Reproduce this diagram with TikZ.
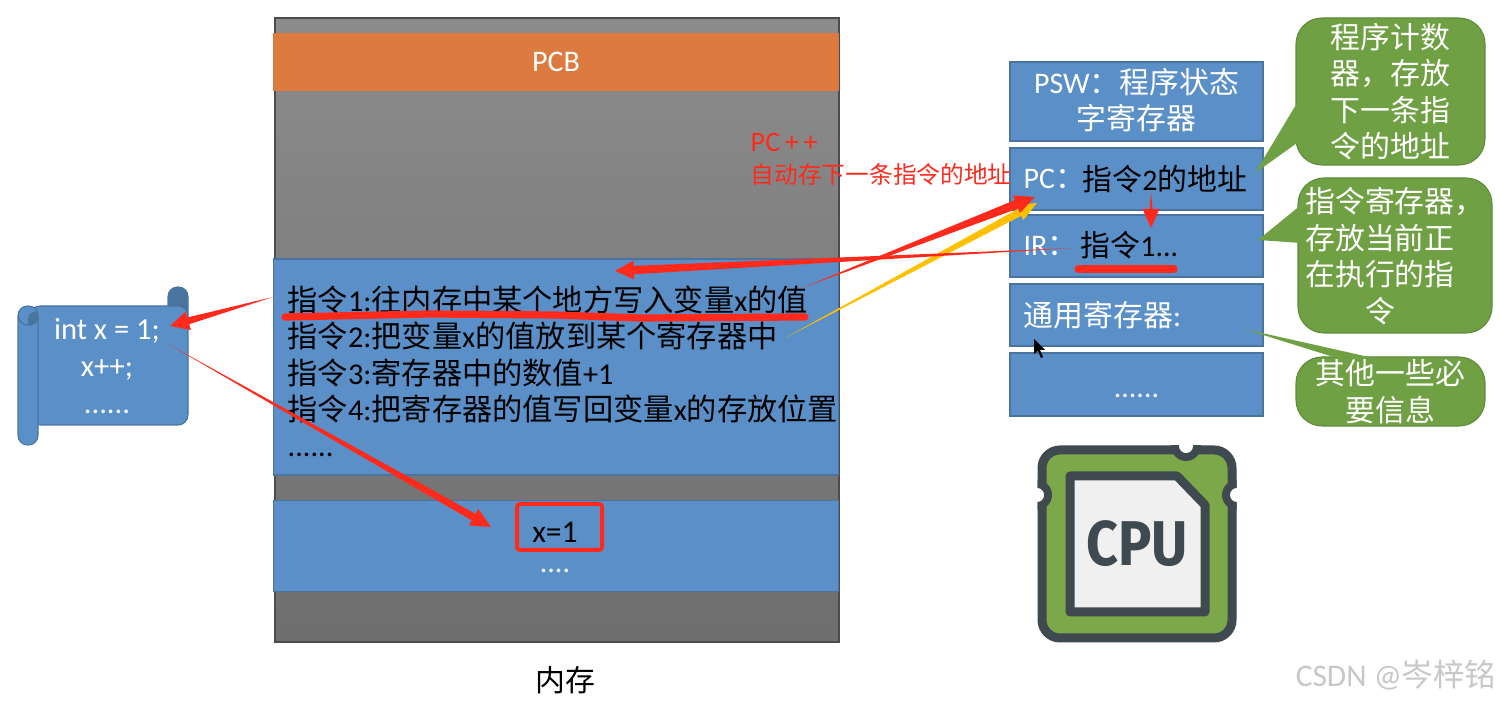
\documentclass[tikz,border=0pt]{standalone}
\usepackage{fontspec}
\setmainfont{Carlito}
\newfontfamily\cjk{Noto Sans CJK SC}
\newfontfamily\cpufont{Fira Sans}
\newcommand{\zh}[1]{{\cjk #1}}
\usetikzlibrary{calc,arrows.meta}
\definecolor{boxblue}{HTML}{5B8FC7}
\definecolor{boxline}{HTML}{4A74A0}
\definecolor{pcborange}{HTML}{DD7A3F}
\definecolor{notegreen}{HTML}{70A044}
\definecolor{noteline}{HTML}{5F8A3A}
\definecolor{markred}{HTML}{FF2A1C}
\definecolor{markyellow}{HTML}{FFC000}
\definecolor{chipdark}{HTML}{3E4A50}
\definecolor{chipgreen}{HTML}{7CA84A}
\newcommand{\taper}[6]{%
  \path coordinate (neck) at ($(#2)!#4!(#1)$)
        coordinate (wingA) at ($(neck)!#6!90:(#2)$)
        coordinate (wingB) at ($(neck)!#6!-90:(#2)$)
        coordinate (waistA) at ($(neck)!#5!90:(#2)$)
        coordinate (waistB) at ($(neck)!#5!-90:(#2)$);
  \fill[#3] (#1) -- (waistA) -- (wingA) -- (#2) -- (wingB) -- (waistB) -- cycle;}
\tikzset{
  blockbox/.style={draw=boxline,fill=boxblue,line width=.3pt,minimum width=56.5mm,inner sep=0pt},
  regbox/.style={draw=boxline,fill=boxblue,line width=.3pt,minimum width=25.3mm,inner sep=0pt},
  notebox/.style={draw=noteline,fill=notegreen,line width=.3pt,rounded corners=2.6mm,text=white,align=center,inner sep=0pt,
    font=\fontsize{8.5}{10.4}\selectfont},
  regtext/.style={anchor=west,inner sep=0pt,font=\fontsize{8.5}{10.4}\selectfont},
  redmark/.style={draw=markred,line width=.72mm,line cap=round,line join=round}
}
\begin{document}
\begin{tikzpicture}[x=.1mm,y=-.1mm]
  \useasboundingbox (0,0) rectangle (1500,702);

  \node[draw=black!70,line width=.3pt,minimum width=56.4mm,minimum height=62.4mm,inner sep=0pt,
    top color=black!45,bottom color=black!57] (memory) at (557,330) {};
  \node[blockbox,fill=pcborange,draw=pcborange,minimum height=5.6mm,text=white,font=\fontsize{8.5}{10}\selectfont] (pcb) at (556,62) {PCB};
  \node[blockbox,minimum height=21.6mm] (code) at (556,367) {};
  \node[anchor=north west,inner sep=0pt,align=left,font=\fontsize{8.6}{10.35}\selectfont] (codetext) at (287,285)
    {\zh{指令}1:\zh{往内存中某个地方写入变量}x\zh{的值}\\
     \zh{指令}2:\zh{把变量}x\zh{的值放到某个寄存器中}\\
     \zh{指令}3:\zh{寄存器中的数值}+1\\
     \zh{指令}4:\zh{把寄存器的值写回变量}x\zh{的存放位置}\\
     ......};
  \node[blockbox,minimum height=9.1mm] (data) at (556,546) {};
  \node[draw=markred,line width=.4mm,rounded corners=.3mm,minimum width=8.5mm,minimum height=4.6mm,inner sep=0pt] (xcell) at (559.5,527) {};
  \node[inner sep=0pt,font=\fontsize{9}{10}\selectfont] (xvalue) at (555,532) {x=1};
  \node[text=white,inner sep=0pt,font=\fontsize{8.5}{10}\selectfont] (datadots) at (555,571) {....};
  \node[inner sep=0pt,font=\fontsize{8.5}{10}\selectfont] (memlabel) at (565,680) {\zh{内存}};

  \filldraw[draw=boxline,fill=boxline,line width=.3pt,rounded corners=.95mm] (168,325) -- (168,287) -- (188,287) -- (188,325) -- cycle;
  \filldraw[draw=boxline,fill=boxblue,line width=.3pt,rounded corners=1mm] (30,306) -- (188,306) -- (188,425) -- (30,425) -- cycle;
  \filldraw[draw=boxline,fill=boxblue,line width=.3pt,rounded corners=.95mm] (18,306) -- (38,306) -- (38,445) -- (18,445) -- cycle;
  \draw[boxline,line width=.3pt] (18,316) .. controls (20,328) and (36,328) .. (38,318);
  \fill[boxline] (38,312) .. controls (30,310) and (27,316) .. (28,325) .. controls (33,326) and (37,323) .. (38,318) -- cycle;
  \node[text=white,align=center,inner sep=0pt,font=\fontsize{8.7}{10.6}\selectfont] (scroll) at (107,366) {int x = 1;\\x++;\\......};

  \node[regbox,minimum height=7.9mm] (psw) at (1136.5,101.5) {};
  \node[text=white,align=center,inner sep=0pt,font=\fontsize{8.5}{10.2}\selectfont] (pswtext) at (1136.5,100) {PSW\zh{：程序状态}\\\zh{字寄存器}};
  \node[regbox,minimum height=6.2mm] (pc) at (1136.5,179) {};
  \node[regbox,minimum height=6.2mm] (ir) at (1136.5,246) {};
  \node[regbox,minimum height=6.2mm] (general) at (1136.5,315) {};
  \node[regbox,minimum height=6.3mm] (rest) at (1136.5,384.5) {};
  \node[text=white,inner sep=0pt,font=\fontsize{8.5}{10}\selectfont] (restdots) at (1136.5,396) {......};
  \node[regtext,text=white] (pclabel) at (1023,179) {PC\zh{：}};
  \node[regtext] (pcvalue) at (1082,179) {\zh{指令}2\zh{的地址}};
  \node[regtext,text=white] (irlabel) at (1023,246) {IR\zh{：}};
  \node[regtext] (irvalue) at (1080,245) {\zh{指令}1...};
  \node[regtext,text=white] (genlabel) at (1023,315) {\zh{通用寄存器}:};

  \node[anchor=west,inner sep=0pt,text=markred,font=\fontsize{8}{10}\selectfont] (pcplus) at (750,142) {PC\,+\,+};
  \node[anchor=west,inner sep=0pt,text=markred,font=\fontsize{6.75}{9}\selectfont] (pcnote) at (750,175) {\zh{自动存下一条指令的地址}};

  \node[notebox,minimum width=18.9mm,minimum height=14.7mm] (pcnote2) at (1390.5,91.5) {\zh{程序计数}\\\zh{器，存放}\\\zh{下一条指}\\\zh{令的地址}};
  \fill[notegreen] (1255,173) -- (1297,103) -- (1297,143) -- cycle;
  \node[notebox,minimum width=19.4mm,minimum height=15.5mm] (irnote) at (1395,255.5) {};
  \node[text=white,align=center,inner sep=0pt,font=\fontsize{8.5}{10.4}\selectfont] (irnotetext) at (1380,256) {\zh{指令寄存器\rlap{，}}\\\zh{存放当前正}\\\zh{在执行的指}\\\zh{令}};
  \fill[notegreen] (1258,240) -- (1301,205) -- (1301,243) -- cycle;
  \node[notebox,minimum width=18.9mm,minimum height=6.9mm] (restnote) at (1390.5,391.5) {\zh{其他一些必}\\\zh{要信息}};
  \fill[notegreen] (1244,329) -- (1340,359) -- (1378,359) -- cycle;

  \draw[fill=chipgreen,draw=chipdark,line width=.9mm,rounded corners=1.8mm] (1042,450) rectangle (1232,638);
  \begin{scope}
    \clip (1037.5,445.5) rectangle (1236.5,642.5);
    \foreach \nx/\ny in {1186/446,1037/495,1237/495}
      \fill[chipdark] (\nx,\ny) circle [radius=1.5mm];
  \end{scope}
  \foreach \nx/\ny in {1186/446,1037/495,1237/495}
    \fill[white] (\nx,\ny) circle [radius=.7mm];
  \draw[fill=black!6,draw=chipdark,line width=.9mm,line join=round]
    (1070,476) -- (1177,476) -- (1205,505) -- (1205,612) -- (1070,612) -- cycle;
  \node[xscale=.88,transform shape,text=chipdark,inner sep=0pt,font=\cpufont\bfseries\fontsize{18}{18}\selectfont] (cpu) at (1137,544) {CPU};
  \fill[black] (1034,339) -- (1034,354) -- (1038,351) -- (1041,358) -- (1043,357) -- (1040,350) -- (1045,350) -- cycle;

  \coordinate (codeL) at (273,297);
  \coordinate (scrollR) at (170,326);
  \coordinate (scrollB) at (168,344);
  \coordinate (xcellL) at (491,527);
  \coordinate (line1R) at (802,288);
  \coordinate (line2R) at (785,338);
  \coordinate (pcL) at (1035,197);
  \coordinate (pcY) at (1037,203);
  \coordinate (irL) at (1074,248);
  \coordinate (line1T) at (615,271);
  \coordinate (pcB) at (1151,192);
  \coordinate (irT) at (1151,228);

  \taper{line2R}{pcY}{markyellow}{2mm}{.38mm}{.85mm}
  \taper{codeL}{scrollR}{markred}{1.9mm}{.35mm}{.95mm}
  \taper{scrollB}{xcellL}{markred}{2mm}{.38mm}{.95mm}
  \taper{line1R}{pcL}{markred}{2mm}{.45mm}{.95mm}
  \taper{irL}{line1T}{markred}{1.9mm}{.42mm}{.95mm}
  \taper{pcB}{irT}{markred}{1.9mm}{.15mm}{.85mm}

  \draw[redmark] (285,317) -- (430,314) -- (555,315) -- (640,318) -- (805,317);
  \draw[redmark] (1078,269) -- (1174,269);

  \node[inner sep=0pt,text=black!22,font=\fontsize{8.95}{10}\selectfont] (mark) at (1396,675) {CSDN @\zh{岑梓铭}};
\end{tikzpicture}
\end{document}
